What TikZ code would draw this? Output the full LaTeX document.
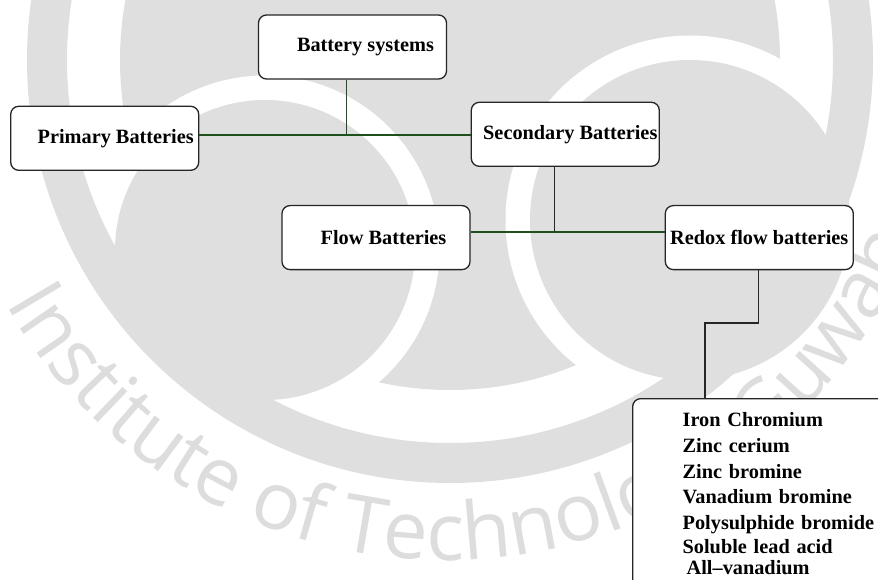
\documentclass[tikz,border=0pt]{standalone}
\usepackage{fontspec}
\setmainfont{Liberation Serif}
\newfontfamily\wmfont{Open Sans}
\usetikzlibrary{positioning, decorations.text}
\definecolor{wmgray}{HTML}{DFDFDF}
\definecolor{wmtext}{HTML}{DDDDDD}
\definecolor{linkgreen}{RGB}{30,80,30}

\begin{document}
\begin{tikzpicture}[x=1pt, y=1pt,
    box/.style={draw=black!85, line width=1.3pt, rounded corners=8pt, fill=white,
                minimum width=188pt, minimum height=64pt, inner sep=0pt,
                font=\fontsize{20.3}{24}\selectfont\bfseries},
    listbox/.style={draw=black!85, line width=1.3pt, rounded corners=8pt, fill=white,
                    text width=240pt, align=left, inner xsep=50pt, inner ysep=14pt,
                    font=\fontsize{20.3}{25.7}\selectfont\bfseries},
    link/.style={draw=linkgreen, line width=1.6pt},
    stem/.style={draw=black!85, line width=1.4pt},
  ]
    \useasboundingbox (0,0) rectangle (878,-580);

    % watermark
    \begin{scope}
      \clip (0,0) rectangle (878,-580);
      \fill[wmgray] (450,-60) circle (330);
      \draw[white, line width=25pt] (265,-250) circle (162);
      \draw[white, line width=25pt] (690,-220) circle (172);
      \fill[wmgray] (265,-250) circle (150);
      \fill[wmgray] (690,-220) circle (160);
      \draw[wmgray, line width=40pt] (450,-60) circle (403);
      \path[decorate, decoration={text along path,
          text={|\wmfont\fontsize{80}{80}\selectfont\color{wmtext}|Institute of Technology Guwahati}}]
        (445,-55) ++(209.5:505) arc[start angle=209.5, end angle=350, radius=505];
    \end{scope}

    % boxes
    \node[box] (sys) at (352.5,-47) {\hspace*{26pt}Battery systems};
    \node[box] (prim) [below left=26pt and 58.5pt of sys] {\hspace*{22pt}Primary Batteries};
    \node[box] (sec)  [below right=22pt and 23.5pt of sys] {\hspace*{10pt}Secondary Batteries};
    \node[box] (flow) [below right=34pt and 82pt of prim] {\hspace*{15pt}Flow Batteries};
    \node[box] (redox) [right=194pt of flow] {Redox flow batteries};
    \node[listbox, anchor=north west] (types) at (632,-398)
      {Iron Chromium\\ Zinc cerium\\ Zinc bromine\\ Vanadium bromine\\
       Polysulphide bromide\\[-1.7pt] Soluble lead acid\\[-4.7pt] \hspace*{4pt}All--vanadium};

    % joints
    \coordinate (j1) at (346.5,-135);
    \coordinate (j2) at (554.5,-232);
    \coordinate (k1) at (758.5,-323);
    \coordinate (k2) at (705,-323);

    % connectors
    \draw[link] (j1 |- sys.south) -- (j1);
    \draw[link] (prim.east |- j1) -- (sec.west |- j1);
    \draw[stem] (j2 |- sec.south) -- (j2);
    \draw[link] (flow.east |- j2) -- (redox.west |- j2);
    \draw[stem] (k1 |- redox.south) -- (k1) -- (k2) -- (k2 |- types.north);
\end{tikzpicture}
\end{document}
